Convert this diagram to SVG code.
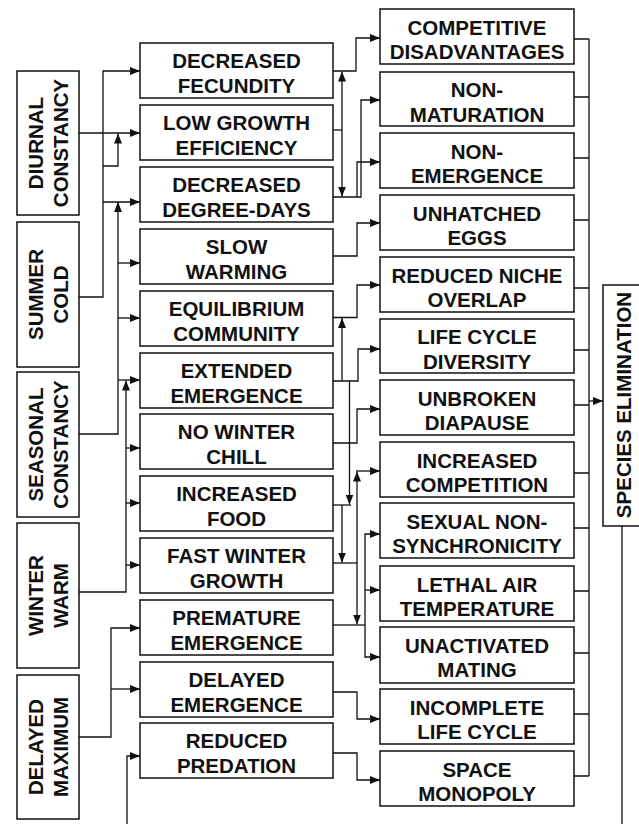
<svg xmlns="http://www.w3.org/2000/svg" width="639" height="824" viewBox="0 0 639 824">
<style>
.box{fill:#fff;stroke:#111;stroke-width:1.5}
.t{font-family:"Liberation Sans",Arial,sans-serif;font-weight:bold;font-size:20.5px;fill:#111;text-anchor:middle}
.c{fill:none;stroke:#111;stroke-width:1.3}
.a{marker-end:url(#ah)}
</style>
<defs>
<marker id="ah" viewBox="0 0 10 8" refX="10" refY="4" markerWidth="10" markerHeight="8" markerUnits="userSpaceOnUse" orient="auto">
<path d="M0,0 L10,4 L0,8 z" fill="#111"/>
</marker>
</defs>
<rect width="639" height="824" fill="#fff"/>

<g id="connectors">
<!-- left column -->
<path class="c a" d="M79,133 H140"/>
<path class="c a" d="M79,297 H103 V71 H140"/>
<path class="c a" d="M103,202 H140"/>
<path class="c a" d="M103,166 H118 V133.5"/>
<path class="c a" d="M79,434 H118 V202"/>
<path class="c a" d="M118,263 H140"/>
<path class="c a" d="M118,318 H140"/>
<path class="c a" d="M118,380 H140"/>
<path class="c a" d="M79,592 H126 V380.5"/>
<path class="c a" d="M126,448 H140"/>
<path class="c a" d="M126,503 H140"/>
<path class="c a" d="M126,565 H140"/>
<path class="c a" d="M79,737 H111 V628 H140"/>
<path class="c a" d="M111,689 H140"/>
<path class="c a" d="M127,824 V756 H140"/>
<!-- middle to right -->
<path class="c a" d="M333,71 H356 V38 H380"/>
<path class="c" d="M333,130 H342"/>
<path class="c a" d="M342,130 V71.5"/>
<path class="c a" d="M342,130 V196.5"/>
<path class="c a" d="M333,197 H361 V100 H380"/>
<path class="c a" d="M357,197 V162 H380"/>
<path class="c a" d="M333,256 H357 V223 H380"/>
<path class="c a" d="M333,317.5 H357 V285 H380"/>
<path class="c a" d="M333,381 H358 V349 H380"/>
<path class="c a" d="M342,381 V318"/>
<path class="c a" d="M349.5,381 V504.5"/>
<path class="c a" d="M333,443 H357 V409 H380"/>
<path class="c" d="M333,505 H351"/>
<path class="c a" d="M342,505 V562.5"/>
<path class="c" d="M333,563 H357"/>
<path class="c a" d="M357,563 V471.5"/>
<path class="c a" d="M357,563 V624.5"/>
<path class="c a" d="M356,471 H380"/>
<path class="c" d="M333,625 H365"/>
<path class="c a" d="M365,625 V534 H380"/>
<path class="c a" d="M365,590 H380"/>
<path class="c a" d="M365,625 V657 H380"/>
<path class="c a" d="M333,692 H357 V719 H380"/>
<path class="c a" d="M333,753 H357 V780 H380"/>
<!-- right bracket -->
<path class="c" d="M574,39 H589 M574,97 H589 M574,158 H589 M574,220 H589 M574,288 H589 M574,350 H589 M574,405 H589 M574,473 H589 M574,528 H589 M574,591 H589 M574,653 H589 M574,714 H589 M574,776 H589 M589,39 V776"/>
<path class="c a" d="M589,401 H603"/>
<path class="c" d="M622,526 V824"/>
</g>

<!-- left column -->
<g id="diurnal-constancy"><rect class="box" x="17" y="71" width="62" height="144"/>
<g transform="translate(48,143) rotate(-90)"><text class="t" x="0" y="-5">DIURNAL</text><text class="t" x="0" y="20">CONSTANCY</text></g></g>
<g id="summer-cold"><rect class="box" x="17" y="222" width="62" height="145"/>
<g transform="translate(48,294.5) rotate(-90)"><text class="t" x="0" y="-5">SUMMER</text><text class="t" x="0" y="20">COLD</text></g></g>
<g id="seasonal-constancy"><rect class="box" x="17" y="372" width="62" height="145"/>
<g transform="translate(48,444.5) rotate(-90)"><text class="t" x="0" y="-5">SEASONAL</text><text class="t" x="0" y="20">CONSTANCY</text></g></g>
<g id="winter-warm"><rect class="box" x="17" y="523" width="62" height="145"/>
<g transform="translate(48,595.5) rotate(-90)"><text class="t" x="0" y="-5">WINTER</text><text class="t" x="0" y="20">WARM</text></g></g>
<g id="delayed-maximum"><rect class="box" x="17" y="675" width="62" height="144"/>
<g transform="translate(48,747) rotate(-90)"><text class="t" x="0" y="-5">DELAYED</text><text class="t" x="0" y="20">MAXIMUM</text></g></g>

<!-- middle column -->
<g id="decreased-fecundity"><rect class="box" x="140" y="43" width="193" height="55"/><text class="t" x="236.5" y="68">DECREASED</text><text class="t" x="236.5" y="92.5">FECUNDITY</text></g>
<g id="low-growth-efficiency"><rect class="box" x="140" y="105" width="193" height="55"/><text class="t" x="236.5" y="130">LOW GROWTH</text><text class="t" x="236.5" y="154.5">EFFICIENCY</text></g>
<g id="decreased-degree-days"><rect class="box" x="140" y="167" width="193" height="55"/><text class="t" x="236.5" y="192">DECREASED</text><text class="t" x="236.5" y="216.5">DEGREE-DAYS</text></g>
<g id="slow-warming"><rect class="box" x="140" y="229" width="193" height="55"/><text class="t" x="236.5" y="254">SLOW</text><text class="t" x="236.5" y="278.5">WARMING</text></g>
<g id="equilibrium-community"><rect class="box" x="140" y="291" width="193" height="55"/><text class="t" x="236.5" y="316">EQUILIBRIUM</text><text class="t" x="236.5" y="340.5">COMMUNITY</text></g>
<g id="extended-emergence"><rect class="box" x="140" y="353" width="193" height="55"/><text class="t" x="236.5" y="378">EXTENDED</text><text class="t" x="236.5" y="402.5">EMERGENCE</text></g>
<g id="no-winter-chill"><rect class="box" x="140" y="414" width="193" height="55"/><text class="t" x="236.5" y="439">NO WINTER</text><text class="t" x="236.5" y="463.5">CHILL</text></g>
<g id="increased-food"><rect class="box" x="140" y="476" width="193" height="55"/><text class="t" x="236.5" y="501">INCREASED</text><text class="t" x="236.5" y="525.5">FOOD</text></g>
<g id="fast-winter-growth"><rect class="box" x="140" y="538" width="193" height="55"/><text class="t" x="236.5" y="563">FAST WINTER</text><text class="t" x="236.5" y="587.5">GROWTH</text></g>
<g id="premature-emergence"><rect class="box" x="140" y="600" width="193" height="55"/><text class="t" x="236.5" y="625">PREMATURE</text><text class="t" x="236.5" y="649.5">EMERGENCE</text></g>
<g id="delayed-emergence"><rect class="box" x="140" y="662" width="193" height="55"/><text class="t" x="236.5" y="687">DELAYED</text><text class="t" x="236.5" y="711.5">EMERGENCE</text></g>
<g id="reduced-predation"><rect class="box" x="140" y="723" width="193" height="55"/><text class="t" x="236.5" y="748">REDUCED</text><text class="t" x="236.5" y="772.5">PREDATION</text></g>

<!-- right column -->
<g id="competitive-disadvantages"><rect class="box" x="380" y="9" width="194" height="55"/><text class="t" x="477" y="34.5">COMPETITIVE</text><text class="t" x="477" y="59">DISADVANTAGES</text></g>
<g id="non-maturation"><rect class="box" x="380" y="72" width="194" height="54"/><text class="t" x="477" y="97">NON-</text><text class="t" x="477" y="121.5">MATURATION</text></g>
<g id="non-emergence"><rect class="box" x="380" y="133" width="194" height="55"/><text class="t" x="477" y="158.5">NON-</text><text class="t" x="477" y="183">EMERGENCE</text></g>
<g id="unhatched-eggs"><rect class="box" x="380" y="195" width="194" height="55"/><text class="t" x="477" y="220.5">UNHATCHED</text><text class="t" x="477" y="245">EGGS</text></g>
<g id="reduced-niche-overlap"><rect class="box" x="380" y="257" width="194" height="55"/><text class="t" x="477" y="282.5">REDUCED NICHE</text><text class="t" x="477" y="307">OVERLAP</text></g>
<g id="life-cycle-diversity"><rect class="box" x="380" y="319" width="194" height="54"/><text class="t" x="477" y="344">LIFE CYCLE</text><text class="t" x="477" y="368.5">DIVERSITY</text></g>
<g id="unbroken-diapause"><rect class="box" x="380" y="380" width="194" height="55"/><text class="t" x="477" y="405.5">UNBROKEN</text><text class="t" x="477" y="430">DIAPAUSE</text></g>
<g id="increased-competition"><rect class="box" x="380" y="442" width="194" height="55"/><text class="t" x="477" y="467.5">INCREASED</text><text class="t" x="477" y="492">COMPETITION</text></g>
<g id="sexual-non-synchronicity"><rect class="box" x="380" y="503" width="194" height="55"/><text class="t" x="477" y="528.5">SEXUAL NON-</text><text class="t" x="477" y="553">SYNCHRONICITY</text></g>
<g id="lethal-air-temperature"><rect class="box" x="380" y="566" width="194" height="55"/><text class="t" x="477" y="591.5">LETHAL AIR</text><text class="t" x="477" y="616">TEMPERATURE</text></g>
<g id="unactivated-mating"><rect class="box" x="380" y="627" width="194" height="56"/><text class="t" x="477" y="652.5">UNACTIVATED</text><text class="t" x="477" y="677">MATING</text></g>
<g id="incomplete-life-cycle"><rect class="box" x="380" y="689" width="194" height="55"/><text class="t" x="477" y="714.5">INCOMPLETE</text><text class="t" x="477" y="739">LIFE CYCLE</text></g>
<g id="space-monopoly"><rect class="box" x="380" y="751" width="194" height="55"/><text class="t" x="477" y="776.5">SPACE</text><text class="t" x="477" y="801">MONOPOLY</text></g>

<g id="species-elimination"><rect class="box" x="603" y="285" width="48" height="241"/>
<g transform="translate(623,405) rotate(-90)"><text class="t" x="0" y="8">SPECIES ELIMINATION</text></g></g>
</svg>
